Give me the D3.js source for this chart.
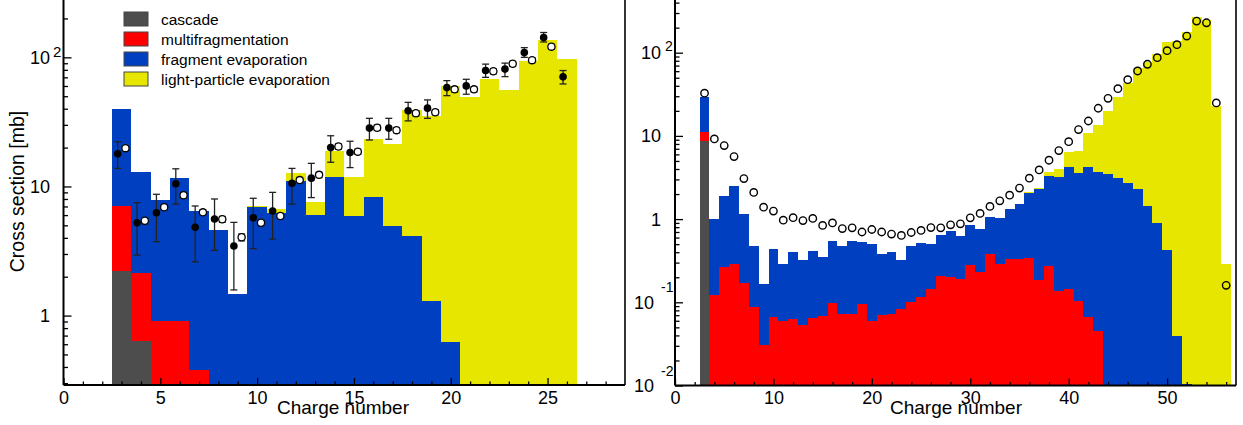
<!DOCTYPE html>
<html><head><meta charset="utf-8">
<script src="https://cdn.jsdelivr.net/npm/d3@7"></script>
<style>
body{margin:0;background:#fff;}
svg{display:block;font-family:"Liberation Sans",Arial,Helvetica,sans-serif;}
</style></head><body>
<svg id="chart" width="1243" height="425"></svg>
<script>
// ---------------- DATA ----------------
// Left panel (charge number Z, cross section in mb); stacked levels = cumulative tops
const leftZ = [3,4,5,6,7,8,9,10,11,12,13,14,15,16,17,18,19,20,21,22,23,24,25,26];
const leftLightTop   = [40,12.9,7.85,11.6,6.5,4.6,1.48,7.1,6.65,12.6,7.6,18.8,11.8,23.2,21.3,39.2,35.4,60.1,49.1,68.1,56.0,94.0,136.8,96.9];
const leftFragTop    = [40,12.9,7.85,11.6,6.5,4.6,1.46,6.97,6.27,11.1,6.0,11.9,5.9,8.25,4.9,4.16,1.30,0.626,null,null,null,null,null,null];
const leftMultiTop   = [7.1,2.12,0.9,0.9,0.38,null,null,null,null,null,null,null,null,null,null,null,null,null,null,null,null,null,null,null];
const leftCascadeTop = [2.21,0.634,null,null,null,null,null,null,null,null,null,null,null,null,null,null,null,null,null,null,null,null,null,null];
const leftExpFilled   = [17.9,5.24,6.26,10.5,4.83,5.6,3.46,5.73,6.46,10.6,11.6,20.0,18.3,28.3,28.3,38.5,40.4,58.3,60.1,79.0,81.1,108.8,142.6,70.6];
const leftExpFilledLo = [13.8,2.94,3.73,7.3,2.61,3.2,1.58,3.3,3.91,7.3,8.2,15.4,14.0,22.9,23.2,32.2,33.7,50.5,51.8,70.0,70.9,100,131.5,62.2];
const leftExpFilledHi = [22.2,7.5,8.7,13.7,7.06,8.0,5.27,8.1,9.0,13.8,15.1,24.7,22.4,33.7,33.7,44.8,46.8,66.0,67.6,88.6,90.2,118.9,155.7,79];
const leftExpOpen     = [19.8,5.43,6.9,8.55,6.3,5.57,4.04,5.24,5.9,11.2,12.3,20.4,18.6,28.5,27.3,36.9,37.6,56.5,56.5,78,89.1,95.1,121,null];
const leftExpOpenErr  = [0.9,0.3,0.35,0.45,0.3,0.3,0.25,0.3,0.3,0.55,0.6,1.0,0.9,1.4,1.3,1.8,1.8,2.7,2.7,3.7,4.2,4.5,5.7,null];

// Right panel
const rightZ = [3,4,5,6,7,8,9,10,11,12,13,14,15,16,17,18,19,20,21,22,23,24,25,26,27,28,29,30,
                31,32,33,34,35,36,37,38,39,40,41,42,43,44,45,46,47,48,49,50,51,52,53,54,55,56];
const rightLightTop = [29.2,1.0,1.87,2.53,1.15,0.48,0.167,0.44,0.29,0.40,0.325,0.408,0.346,0.54,0.478,0.55,0.53,0.505,0.383,0.397,0.318,0.469,0.515,0.505,0.648,0.71,0.618,0.847,
                       0.759,1.066,1.045,1.318,1.53,2.09,2.39,3.73,3.98,6.37,6.6,10.7,13.6,20.0,29.1,43.6,65,78,96.5,133,137,176,268,250,22.9,0.288];
const rightFragTop  = [29.2,1.0,1.87,2.53,1.15,0.48,0.167,0.44,0.29,0.40,0.325,0.408,0.346,0.54,0.478,0.55,0.53,0.505,0.383,0.397,0.318,0.469,0.515,0.505,0.648,0.71,0.618,0.847,
                       0.759,1.066,1.045,1.318,1.53,2.05,2.29,3.31,3.25,4.2,3.63,4.28,3.70,3.50,3.13,2.75,2.29,1.44,0.91,0.42,0.0397,0.0105,null,null,null,null];
const rightMultiTop = [11.1,0.121,0.262,0.285,0.17,0.089,0.031,0.0667,0.059,0.063,0.054,0.065,0.069,0.098,0.073,0.073,0.096,0.06,0.07,0.072,0.084,0.102,0.116,0.144,0.208,0.201,0.19,0.28,
                       0.233,0.383,0.29,0.33,0.334,0.343,0.187,0.275,0.138,0.144,0.103,0.0667,0.0456,null,null,null,null,null,null,null,null,null,null,null,null,null];
const rightCascadeTop = [8.7,null,null,null,null,null,null,null,null,null,null,null,null,null,null,null,null,null,null,null,null,null,null,null,null,null,null,null,
                       null,null,null,null,null,null,null,null,null,null,null,null,null,null,null,null,null,null,null,null,null,null,null,null,null,null];
const rightExpOpen  = [32.6,9.2,7.65,5.65,3.07,2.09,1.39,1.25,0.97,1.04,0.96,1.02,0.84,0.90,0.77,0.786,0.70,0.75,0.70,0.66,0.636,0.69,0.73,0.79,0.786,0.854,0.878,1.036,
                       1.17,1.42,1.66,1.94,2.36,3.1,3.9,5.1,6.66,8.53,11.9,15.1,21.5,28.3,37,47.4,60.3,72.6,87.1,105.7,124.8,158.6,240,229,24.9,0.16];

// Axis ticks / labels
const leftXMajor = [0,5,10,15,20,25];
const leftXMinor = [1,2,3,4,6,7,8,9,11,12,13,14,16,17,18,19,21,22,23,24,26,27,28];
const rightXMajor = [0,10,20,30,40,50];
const rightXMinor = [2,4,6,8,12,14,16,18,22,24,26,28,32,34,36,38,42,44,46,48,52,54,56];
const leftYMajor = [1,10,100];
const leftYMajorText = ['1','10','10'];
const leftYMajorSup  = ['','','2'];
const leftYMinor = [0.3,0.4,0.5,0.6,0.7,0.8,0.9,2,3,4,5,6,7,8,9,20,30,40,50,60,70,80,90,200];
const rightYMajor = [0.01,0.1,1,10,100];
const rightYMajorText = ['10','10','1','10','10'];
const rightYMajorSup  = ['-2','-1','','','2'];
const rightYMinor = [0.02,0.03,0.04,0.05,0.06,0.07,0.08,0.09,0.2,0.3,0.4,0.5,0.6,0.7,0.8,0.9,2,3,4,5,6,7,8,9,20,30,40,50,60,70,80,90,200,300,400];

const legendLabels = ['cascade','multifragmentation','fragment evaporation','light-particle evaporation'];

// ---------------- DRAW ----------------
const COL = {cascade:'#4d4d4d', multi:'#ff0000', frag:'#0040c0', light:'#e6e600'};
const svg = d3.select('#chart');

function drawPanel(cfg){
  const xs = d3.scaleLinear().domain(cfg.xDomain).range([cfg.x0, cfg.x1]);
  const ys = d3.scaleLog().domain(cfg.yDomain).range([cfg.base, 0]);
  const g = svg.append('g');
  const layers = [[cfg.light, COL.light],[cfg.frag, COL.frag],[cfg.multi, COL.multi],[cfg.cascade, COL.cascade]];
  layers.forEach(([vals, col])=>{
    const d = cfg.z.map((z,i)=>({z, v: vals[i]})).filter(p=>p.v!=null && p.v>cfg.yDomain[0]);
    g.append('g').selectAll('rect').data(d).join('rect')
      .attr('x', p=>xs(p.z-0.5)).attr('width', p=>xs(p.z+0.5)-xs(p.z-0.5))
      .attr('y', p=>ys(p.v)).attr('height', p=>cfg.base-ys(p.v))
      .attr('fill', col)
      .attr('shape-rendering','crispEdges');
  });

  // axes ticks
  const ax = g.append('g').attr('color','#000');
  const xMaj = ax.append('g').attr('transform',`translate(0,${cfg.base})`)
    .call(d3.axisBottom(xs).tickValues(cfg.xMajor).tickSize(-7).tickPadding(6).tickFormat(d3.format('d')));
  xMaj.select('.domain').remove();
  xMaj.selectAll('text').attr('font-size',18).attr('font-family','"Liberation Sans",Arial,sans-serif');
  xMaj.selectAll('line').attr('stroke-width',1.3);
  const xMin = ax.append('g').attr('transform',`translate(0,${cfg.base})`)
    .call(d3.axisBottom(xs).tickValues(cfg.xMinor).tickSize(-3.5).tickFormat(''));
  xMin.select('.domain').remove();
  xMin.selectAll('line').attr('stroke-width',1.3);

  const yMaj = ax.append('g').attr('transform',`translate(${cfg.x0},0)`)
    .call(d3.axisLeft(ys).tickValues(cfg.yMajor).tickSize(-8).tickFormat(''));
  yMaj.select('.domain').remove();
  yMaj.selectAll('line').attr('stroke-width',1.3);
  const yMin = ax.append('g').attr('transform',`translate(${cfg.x0},0)`)
    .call(d3.axisLeft(ys).tickValues(cfg.yMinor).tickSize(-4.5).tickFormat(''));
  yMin.select('.domain').remove();
  yMin.selectAll('line').attr('stroke-width',1.3);

  // y labels with superscripts
  const yl = ax.append('g').attr('font-size',18).attr('fill','#000');
  cfg.yMajor.forEach((v,i)=>{
    const sup = cfg.yMajorSup[i];
    const neg = sup.startsWith('-');
    const ty = ys(v);
    yl.append('text').attr('text-anchor','end')
      .attr('x', cfg.x0 - (neg ? cfg.negBaseOff : cfg.baseOff))
      .attr('y', ty + 6.5).text(cfg.yMajorText[i]);
    if (sup) {
      yl.append('text').attr('font-size', cfg.supSize)
        .attr('x', cfg.x0 - (neg ? cfg.negSupOff : cfg.supOff))
        .attr('y', ty - (neg ? 10 : cfg.supRise)).text(sup);
    }
  });

  // frame
  ax.append('line').attr('x1',cfg.x0).attr('x2',cfg.x0).attr('y1',0).attr('y2',cfg.base).attr('stroke','#000').attr('stroke-width',2);
  ax.append('line').attr('x1',cfg.x0).attr('x2',cfg.x1).attr('y1',cfg.base).attr('y2',cfg.base).attr('stroke','#000').attr('stroke-width',2);
  ax.append('line').attr('x1',cfg.x1).attr('x2',cfg.x1).attr('y1',0).attr('y2',cfg.base).attr('stroke','#000').attr('stroke-width',1.6);

  // axis title
  g.append('text').attr('x', cfg.titleX).attr('y', 414).attr('text-anchor','middle')
    .attr('font-size',19).text('Charge number');
  return {xs, ys, g};
}

// ---- Left panel ----
const L = drawPanel({
  x0:63.5, x1:625, base:385, xDomain:[0,29], yDomain:[0.29,278],
  z:leftZ, light:leftLightTop, frag:leftFragTop, multi:leftMultiTop, cascade:leftCascadeTop,
  xMajor:leftXMajor, xMinor:leftXMinor, yMajor:leftYMajor, yMajorText:leftYMajorText, yMajorSup:leftYMajorSup, yMinor:leftYMinor,
  baseOff:13.5, supOff:10.5, supRise:0.6, negBaseOff:13.5, negSupOff:10.5, supSize:15, titleX:343
});

// experimental points, left
{
  const {xs, ys, g} = L;
  const pts = g.append('g');
  const filled = leftZ.map((z,i)=>({z, v:leftExpFilled[i], lo:leftExpFilledLo[i], hi:leftExpFilledHi[i]})).filter(p=>p.v!=null);
  const open = leftZ.map((z,i)=>({z, v:leftExpOpen[i], e:leftExpOpenErr[i]})).filter(p=>p.v!=null);
  const cap = 3.5;
  open.forEach(p=>{
    const x = xs(p.z+0.2);
    pts.append('line').attr('x1',x).attr('x2',x).attr('y1',ys(p.v-p.e)).attr('y2',ys(p.v+p.e)).attr('stroke','#222').attr('stroke-width',1.2);
    [p.v-p.e, p.v+p.e].forEach(q=>pts.append('line').attr('x1',x-cap).attr('x2',x+cap).attr('y1',ys(q)).attr('y2',ys(q)).attr('stroke','#222').attr('stroke-width',1.2));
  });
  pts.selectAll('circle.open').data(open).join('circle').attr('class','open')
    .attr('cx',p=>xs(p.z+0.2)).attr('cy',p=>ys(p.v)).attr('r',3.6)
    .attr('fill','#fff').attr('stroke','#000').attr('stroke-width',1.3);
  filled.forEach(p=>{
    const x = xs(p.z-0.2);
    pts.append('line').attr('x1',x).attr('x2',x).attr('y1',ys(p.lo)).attr('y2',ys(p.hi)).attr('stroke','#222').attr('stroke-width',1.3);
    [p.lo, p.hi].forEach(q=>pts.append('line').attr('x1',x-cap).attr('x2',x+cap).attr('y1',ys(q)).attr('y2',ys(q)).attr('stroke','#222').attr('stroke-width',1.3));
  });
  pts.selectAll('circle.filled').data(filled).join('circle').attr('class','filled')
    .attr('cx',p=>xs(p.z-0.2)).attr('cy',p=>ys(p.v)).attr('r',3.8).attr('fill','#000');

  // legend
  const lg = g.append('g');
  const cols = [COL.cascade, COL.multi, COL.frag, COL.light];
  legendLabels.forEach((t,i)=>{
    lg.append('rect').attr('x',124).attr('y',12+20*i).attr('width',24).attr('height',14)
      .attr('fill',cols[i]).attr('stroke','#444').attr('stroke-width',1);
    lg.append('text').attr('x',161).attr('y',25+20*i).attr('font-size',15.5).text(t);
  });

  // y title
  g.append('text').attr('transform','translate(24,191.5) rotate(-90)').attr('text-anchor','middle')
    .attr('font-size',19.5).text('Cross section [mb]');
}

// ---- Right panel ----
const R = drawPanel({
  x0:675, x1:1236, base:385.5, xDomain:[0,57], yDomain:[0.01,430],
  z:rightZ, light:rightLightTop, frag:rightFragTop, multi:rightMultiTop, cascade:rightCascadeTop,
  xMajor:rightXMajor, xMinor:rightXMinor, yMajor:rightYMajor, yMajorText:rightYMajorText, yMajorSup:rightYMajorSup, yMinor:rightYMinor,
  baseOff:14, supOff:10, supRise:2, negBaseOff:21, negSupOff:14, supSize:14, titleX:956
});
{
  const {xs, ys, g} = R;
  const open = rightZ.map((z,i)=>({z, v:rightExpOpen[i]})).filter(p=>p.v!=null);
  g.append('g').selectAll('circle').data(open).join('circle')
    .attr('cx',p=>xs(p.z)).attr('cy',p=>ys(p.v)).attr('r',3.7)
    .attr('fill','none').attr('stroke','#000').attr('stroke-width',1.4);
}
</script>
</body></html>
